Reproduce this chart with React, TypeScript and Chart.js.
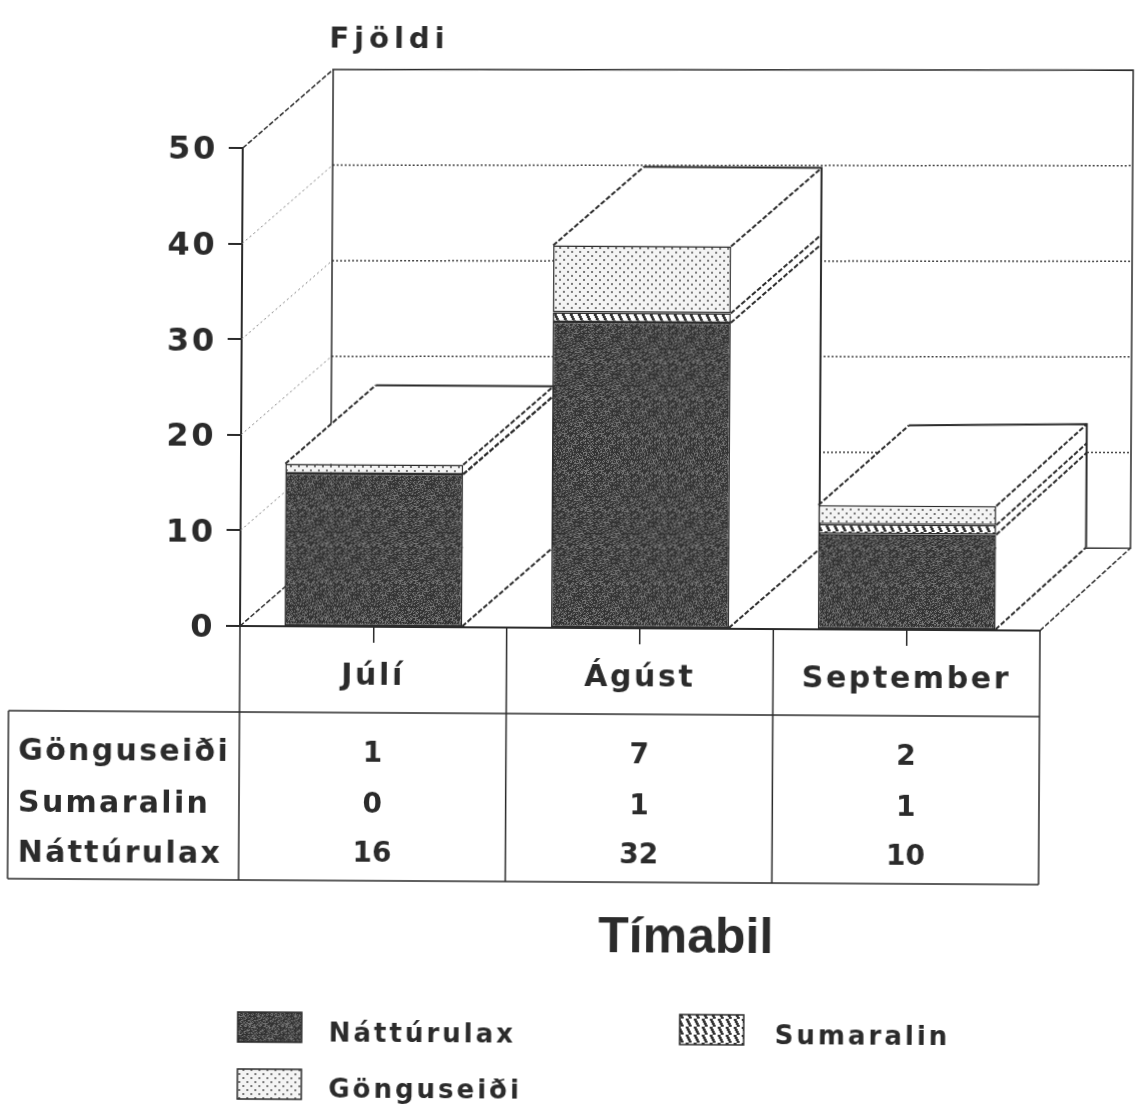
import React, { useEffect, useRef } from "react";
import { Chart, registerables } from "chart.js";

Chart.register(...registerables);

const categories = ["Júlí", "Ágúst", "September"];
const naatturulax = [16, 32, 10];
const sumaralin = [0, 1, 1];
const gonguseidi = [1, 7, 2];
const seriesNames = ["Náttúrulax", "Sumaralin", "Gönguseiði"];
const yTicks = [0, 10, 20, 30, 40, 50];
const yTitle = "Fjöldi";
const xTitle = "Tímabil";

const W = 1137;
const H = 1112;
const DX = 90;
const DY = -79;
const INK = "#2b2b2b";
const FONT = '"DejaVu Sans"';

// the back of the scene sits a little higher on the right than the front does
const backY = (x: number, y: number) => y + DY - 4 * Math.max(0, (x - 821) / 309);

function tile(size: number, paint: (c: CanvasRenderingContext2D) => void) {
  const cv = document.createElement("canvas");
  cv.width = size;
  cv.height = size;
  const c = cv.getContext("2d")!;
  paint(c);
  return c.createPattern(cv, "repeat")!;
}

function darkTile() {
  return tile(37, (c) => {
    for (let y = 0; y < 37; y++) {
      for (let x = 0; x < 37; x++) {
        const h = (x * 7 + y * 13 + ((x * y) % 11) * 5) % 17;
        const v = h < 4 ? 118 : h < 9 ? 78 : 50;
        c.fillStyle = `rgb(${v},${v},${v})`;
        c.fillRect(x, y, 1, 1);
      }
    }
  });
}

function hatchTile() {
  return tile(8, (c) => {
    c.fillStyle = "#fff";
    c.fillRect(0, 0, 8, 8);
    c.fillStyle = "#333";
    for (let y = 0; y < 8; y++) {
      const x = Math.floor(y / 2);
      c.fillRect(x, y, 3, 1);
      c.fillRect(x - 8, y, 3, 1);
    }
  });
}

function dotTile() {
  return tile(8, (c) => {
    c.fillStyle = "#f4f4f4";
    c.fillRect(0, 0, 8, 8);
    c.fillStyle = "#777";
    c.fillRect(1, 1, 2, 2);
    c.fillRect(5, 5, 2, 2);
  });
}

function text(
  c: CanvasRenderingContext2D,
  s: string,
  x: number,
  y: number,
  size: number,
  spacing: number,
  font = FONT,
  align: CanvasTextAlign = "left"
) {
  c.save();
  c.font = `bold ${size}px ${font}`;
  (c as any).letterSpacing = `${spacing}px`;
  c.fillStyle = INK;
  c.textAlign = align;
  c.textBaseline = "alphabetic";
  c.fillText(s, x, y);
  c.restore();
}

const scene3d = {
  id: "scene3d",
  beforeDraw(chart: any) {
    chart.ctx.letterSpacing = "2.6px";
  },
  beforeDatasetsDraw(chart: any) {
    const c: CanvasRenderingContext2D = chart.ctx;
    const { x: xs, y: ys } = chart.scales;
    const L = xs.left;
    const R = xs.right;
    const y0 = ys.getPixelForValue(0);
    const yMax = ys.getPixelForValue(yTicks[yTicks.length - 1]);
    c.save();
    c.lineCap = "butt";

    // left wall and back wall grid
    yTicks.slice(1, -1).forEach((t) => {
      const y = ys.getPixelForValue(t);
      c.strokeStyle = "#777";
      c.lineWidth = 1;
      c.setLineDash([2, 3]);
      c.beginPath();
      c.moveTo(L, y);
      c.lineTo(L + DX, backY(L + DX, y));
      c.stroke();
      c.strokeStyle = "#444";
      c.lineWidth = 1.5;
      c.setLineDash([2, 2]);
      c.beginPath();
      c.moveTo(L + DX, backY(L + DX, y));
      c.lineTo(R + DX, backY(R + DX, y));
      c.stroke();
    });

    // wall outline
    c.strokeStyle = INK;
    c.lineWidth = 1.5;
    c.setLineDash([]);
    c.beginPath();
    c.moveTo(L + DX, backY(L + DX, y0));
    c.lineTo(L + DX, backY(L + DX, yMax));
    c.lineTo(R + DX, backY(R + DX, yMax));
    c.lineTo(R + DX, backY(R + DX, y0));
    c.lineTo(L + DX, backY(L + DX, y0));
    c.stroke();
    c.setLineDash([5, 2]);
    [
      [L, yMax],
      [L, y0],
      [R, y0],
    ].forEach(([px, py]) => {
      c.beginPath();
      c.moveTo(px, py);
      c.lineTo(px + DX, backY(px + DX, py));
      c.stroke();
    });

    // top and side faces of each bar, left to right
    const metas = chart.data.datasets.map((_: any, i: number) => chart.getDatasetMeta(i));
    categories.forEach((_, i) => {
      const els = metas.map((m: any) => m.data[i]);
      const first = els[0];
      const last = els[els.length - 1];
      const x0 = first.x - first.width / 2;
      const x1 = first.x + first.width / 2;
      const bx0 = x0 + DX;
      const bx1 = x1 + DX;
      const yTop = last.y;
      const yBase = first.base;

      c.fillStyle = "#fff";
      c.setLineDash([]);
      c.beginPath();
      c.moveTo(x1, yTop);
      c.lineTo(bx1, backY(bx1, yTop));
      c.lineTo(bx1, backY(bx1, yBase));
      c.lineTo(x1, yBase);
      c.closePath();
      c.fill();
      c.beginPath();
      c.moveTo(x0, yTop);
      c.lineTo(bx0, backY(bx0, yTop));
      c.lineTo(bx1, backY(bx1, yTop));
      c.lineTo(x1, yTop);
      c.closePath();
      c.fill();

      c.strokeStyle = INK;
      c.lineWidth = 2;
      c.beginPath();
      c.moveTo(bx0, backY(bx0, yTop));
      c.lineTo(bx1, backY(bx1, yTop));
      c.lineTo(bx1, backY(bx1, yBase));
      c.stroke();

      c.setLineDash([5, 2]);
      c.beginPath();
      c.moveTo(x0, yTop);
      c.lineTo(bx0, backY(bx0, yTop));
      c.stroke();
      els.forEach((el: any) => {
        c.beginPath();
        c.moveTo(x1, el.y);
        c.lineTo(bx1, backY(bx1, el.y));
        c.stroke();
      });
      c.beginPath();
      c.moveTo(x1, yBase);
      c.lineTo(bx1, backY(bx1, yBase));
      c.stroke();
    });
    c.restore();
  },
  afterDraw(chart: any) {
    const c: CanvasRenderingContext2D = chart.ctx;
    const { x: xs, y: ys } = chart.scales;
    const L = xs.left;
    const R = xs.right;
    const y0 = ys.getPixelForValue(0);
    const colW = (R - L) / categories.length;
    const rowTop = y0 + 86;
    const tableBottom = y0 + 254;
    const tableLeft = 9;

    c.save();
    c.strokeStyle = INK;
    c.lineWidth = 1.5;
    c.setLineDash([]);
    c.beginPath();
    for (let i = 0; i <= categories.length; i++) {
      c.moveTo(L + i * colW, y0);
      c.lineTo(L + i * colW, tableBottom);
    }
    c.moveTo(tableLeft, rowTop);
    c.lineTo(R, rowTop);
    c.moveTo(tableLeft, rowTop);
    c.lineTo(tableLeft, tableBottom);
    c.moveTo(tableLeft, tableBottom);
    c.lineTo(R, tableBottom);
    c.stroke();
    c.restore();

    // data table, top row = last series
    const rows = [...chart.data.datasets].reverse();
    const labelY = [rowTop + 49, rowTop + 101, rowTop + 151];
    const valueY = [rowTop + 49, rowTop + 100, rowTop + 149];
    rows.forEach((ds: any, r: number) => {
      text(c, ds.label, 19, labelY[r], 30, 2.3);
      ds.data.forEach((v: number, i: number) => {
        text(c, String(v), xs.getPixelForValue(i), valueY[r], 28, 0, FONT, "center");
      });
    });

    text(c, yTitle, 326, 47, 29, 5);
    text(c, xTitle, 600, 950, 50, 0, '"Liberation Sans"');

    // legend
    const legend = [
      { i: 0, sx: 240, sy: 1012, lx: 331, ly: 1041 },
      { i: 1, sx: 682, sy: 1012, lx: 777, ly: 1041 },
      { i: 2, sx: 240, sy: 1069, lx: 331, ly: 1097 },
    ];
    legend.forEach((it) => {
      const ds = chart.data.datasets[it.i];
      c.save();
      c.fillStyle = ds.backgroundColor;
      c.fillRect(it.sx, it.sy, 64, 30);
      c.strokeStyle = INK;
      c.lineWidth = 1.5;
      c.strokeRect(it.sx, it.sy, 64, 30);
      c.restore();
      text(c, ds.label, it.lx, it.ly, 26, 3);
    });
  },
};

export default function App() {
  const ref = useRef<HTMLCanvasElement>(null);

  useEffect(() => {
    const chart = new Chart(ref.current!, {
      type: "bar",
      data: {
        labels: categories,
        datasets: [
          { label: seriesNames[0], data: naatturulax, backgroundColor: darkTile() as any },
          { label: seriesNames[1], data: sumaralin, backgroundColor: hatchTile() as any },
          { label: seriesNames[2], data: gonguseidi, backgroundColor: dotTile() as any },
        ].map((d) => ({
          ...d,
          borderColor: INK,
          borderWidth: 1.5,
          borderSkipped: false,
          barPercentage: 0.667,
          categoryPercentage: 1,
        })),
      },
      options: {
        responsive: false,
        animation: false,
        layout: { padding: { left: 0, right: W - 1040, top: 148, bottom: 0 } },
        plugins: {
          legend: { display: false },
          title: { display: false },
          tooltip: { enabled: false },
        },
        scales: {
          x: {
            stacked: true,
            afterFit: (s: any) => {
              s.height = H - 626;
            },
            grid: {
              offset: false,
              drawOnChartArea: false,
              tickLength: 16,
              color: INK,
              lineWidth: 1.5,
            },
            border: { color: INK, width: 2 },
            ticks: {
              padding: 16,
              maxRotation: 0,
              autoSkip: false,
              color: INK,
              font: { family: "DejaVu Sans", size: 30, weight: "bold" },
            },
          },
          y: {
            stacked: true,
            min: 0,
            max: 50,
            afterFit: (s: any) => {
              s.width = 240;
            },
            afterBuildTicks: (s: any) => {
              s.ticks = yTicks.map((value) => ({ value }));
            },
            grid: {
              drawOnChartArea: false,
              tickLength: 14,
              color: INK,
              lineWidth: 2,
            },
            border: { color: INK, width: 2 },
            ticks: {
              padding: 11,
              labelOffset: 3,
              color: INK,
              font: { family: "DejaVu Sans", size: 32, weight: "bold" },
            },
          },
        },
      },
      plugins: [scene3d],
    } as any);
    return () => chart.destroy();
  }, []);

  return (
    <canvas
      ref={ref}
      width={W}
      height={H}
      style={{
        position: "absolute",
        left: 0,
        top: 0,
        width: W,
        height: H,
        transform: "rotate(0.33deg)",
        transformOrigin: "240px 626px",
      }}
    />
  );
}
